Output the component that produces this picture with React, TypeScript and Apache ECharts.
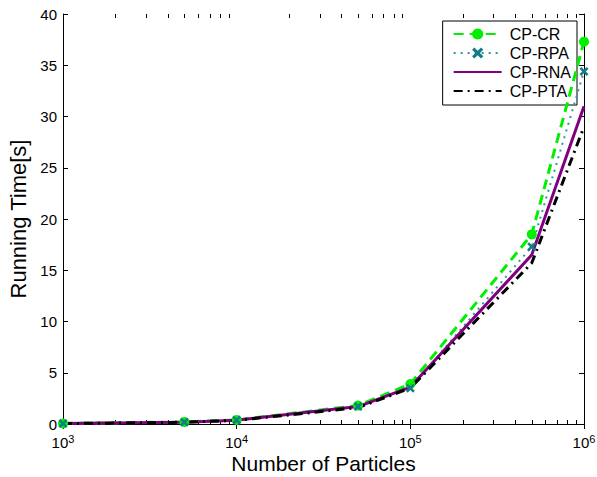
import React, { useEffect, useRef } from "react";
import * as echarts from "echarts";

const particles = [1000, 5000, 10000, 50000, 100000, 500000, 1000000];
const cpCR = [0.05, 0.2, 0.4, 1.8, 3.9, 18.5, 37.3];
const cpRPA = [0.05, 0.18, 0.38, 1.7, 3.5, 17.3, 34.4];
const cpRNA = [0.05, 0.18, 0.37, 1.7, 3.6, 16.5, 31.0];
const cpPTA = [0.04, 0.17, 0.35, 1.6, 3.5, 15.7, 29.0];
const minorTicks = [
  2000, 3000, 4000, 5000, 6000, 7000, 8000, 9000,
  20000, 30000, 40000, 50000, 60000, 70000, 80000, 90000,
  200000, 300000, 400000, 500000, 600000, 700000, 800000, 900000,
];
const yTicks = { min: 0, max: 40, interval: 5 };
const xRange = { min: 1000, max: 1000000 };

const FONT = "'Liberation Sans', Arial, Helvetica, sans-serif";
const X_PATH =
  "path://M2,0 L5,3 L8,0 L10,2 L7,5 L10,8 L8,10 L5,7 L2,10 L0,8 L3,5 L0,2 Z";

export default function App() {
  const ref = useRef<HTMLDivElement>(null);
  useEffect(() => {
    if (!ref.current) return;
    const chart = echarts.init(ref.current, undefined, { renderer: "svg" });
    const pair = (ys: number[]) => particles.map((x, i) => [x, ys[i]]);
    const xLabel = (v: number) => `{b|10}{s|${Math.round(Math.log10(v))}}`;
    const axisLine = { show: true, lineStyle: { color: "#000", width: 1 } };
    const tick = { show: true, inside: true, length: 5, lineStyle: { color: "#000" } };
    chart.setOption({
      animation: false,
      backgroundColor: "#fff",
      grid: {
        left: 63,
        right: 13,
        top: 14,
        bottom: 53,
        containLabel: false,
        outerBoundsMode: "none",
      },
      legend: {
        data: [
          { name: "CP-CR" },
          { name: "CP-RPA" },
          { name: "CP-RNA", itemStyle: { opacity: 0 } },
          { name: "CP-PTA", itemStyle: { opacity: 0 } },
        ],
        orient: "vertical",
        right: 20,
        top: 21,
        z: 2,
        backgroundColor: "#fff",
        borderColor: "#000",
        borderWidth: 1,
        borderRadius: 0,
        padding: [5, 6, 6, 10],
        itemGap: 3,
        itemWidth: 48,
        itemHeight: 14,
        textStyle: { fontFamily: FONT, fontSize: 16, color: "#000", padding: [0, 0, 0, 3] },
      },
      xAxis: [
        {
          type: "log",
          logBase: 10,
          min: xRange.min,
          max: xRange.max,
          name: "Number of Particles",
          nameLocation: "middle",
          nameGap: 29,
          nameMoveOverlap: false,
          nameTextStyle: { fontFamily: FONT, fontSize: 21, lineHeight: 21, color: "#000" },
          axisLine,
          axisTick: tick,
          splitLine: { show: false },
          axisLabel: {
            formatter: xLabel,
            margin: 9,
            rich: {
              b: { fontFamily: FONT, fontSize: 15, color: "#000", lineHeight: 16 },
              s: { fontFamily: FONT, fontSize: 11, color: "#000", padding: [0, 0, 8, 0] },
            },
          },
        },
        {
          type: "log",
          logBase: 10,
          min: xRange.min,
          max: xRange.max,
          position: "top",
          axisLine,
          axisTick: tick,
          axisLabel: { show: false },
          splitLine: { show: false },
        },
      ],
      yAxis: [
        {
          type: "value",
          min: yTicks.min,
          max: yTicks.max,
          interval: yTicks.interval,
          name: "Running Time[s]",
          nameLocation: "middle",
          nameGap: 34,
          nameMoveOverlap: false,
          nameTextStyle: { fontFamily: FONT, fontSize: 22, color: "#000" },
          axisLine,
          axisTick: tick,
          splitLine: { show: false },
          axisLabel: { fontFamily: FONT, fontSize: 15, color: "#000", margin: 6 },
        },
        {
          type: "value",
          min: yTicks.min,
          max: yTicks.max,
          interval: yTicks.interval,
          position: "right",
          axisLine,
          axisTick: tick,
          splitLine: { show: false },
          axisLabel: { show: false },
        },
      ],
      series: [
        {
          name: "CP-CR",
          type: "line",
          data: pair(cpCR),
          symbol: "circle",
          symbolSize: 10,
          color: "#00f000",
          lineStyle: { width: 3, type: [10, 6], color: "#00f000" },
          itemStyle: { color: "#00f000" },
        },
        {
          name: "CP-RPA",
          type: "line",
          data: pair(cpRPA),
          symbol: X_PATH,
          symbolSize: 9,
          color: "#137d86",
          lineStyle: { width: 2, type: [2, 5], color: "#2a9aa0" },
          itemStyle: { color: "#137d86" },
        },
        {
          name: "CP-RNA",
          type: "line",
          data: pair(cpRNA),
          symbol: "none",
          color: "#800080",
          lineStyle: { width: 3, type: "solid", color: "#800080" },
        },
        {
          name: "CP-PTA",
          type: "line",
          data: pair(cpPTA),
          symbol: "none",
          color: "#000",
          lineStyle: { width: 3, type: [9, 5, 2, 5], color: "#000" },
        },
      ],
    });

    // Minor ticks (2..9 × 10^k) on the bottom and top edges, positioned through the axis scales.
    const children: any[] = [];
    minorTicks.forEach((v) => {
      const b = chart.convertToPixel({ xAxisIndex: 0, yAxisIndex: 0 }, [v, yTicks.min]) as number[];
      const t = chart.convertToPixel({ xAxisIndex: 0, yAxisIndex: 0 }, [v, yTicks.max]) as number[];
      if (!b || !t) return;
      const bx = Math.round(b[0]) + 0.5;
      const tx = Math.round(t[0]) + 0.5;
      children.push({
        type: "line",
        shape: { x1: bx, y1: b[1], x2: bx, y2: b[1] - 4 },
        style: { stroke: "#000", lineWidth: 1 },
      });
      children.push({
        type: "line",
        shape: { x1: tx, y1: t[1], x2: tx, y2: t[1] + 4 },
        style: { stroke: "#000", lineWidth: 1 },
      });
    });
    chart.setOption({
      graphic: [{ type: "group", z: 200, silent: true, children }],
    });

    return () => chart.dispose();
  }, []);
  return (
    <div
      ref={ref}
      style={{ position: "absolute", left: 0, top: 0, width: 597, height: 477 }}
    />
  );
}
